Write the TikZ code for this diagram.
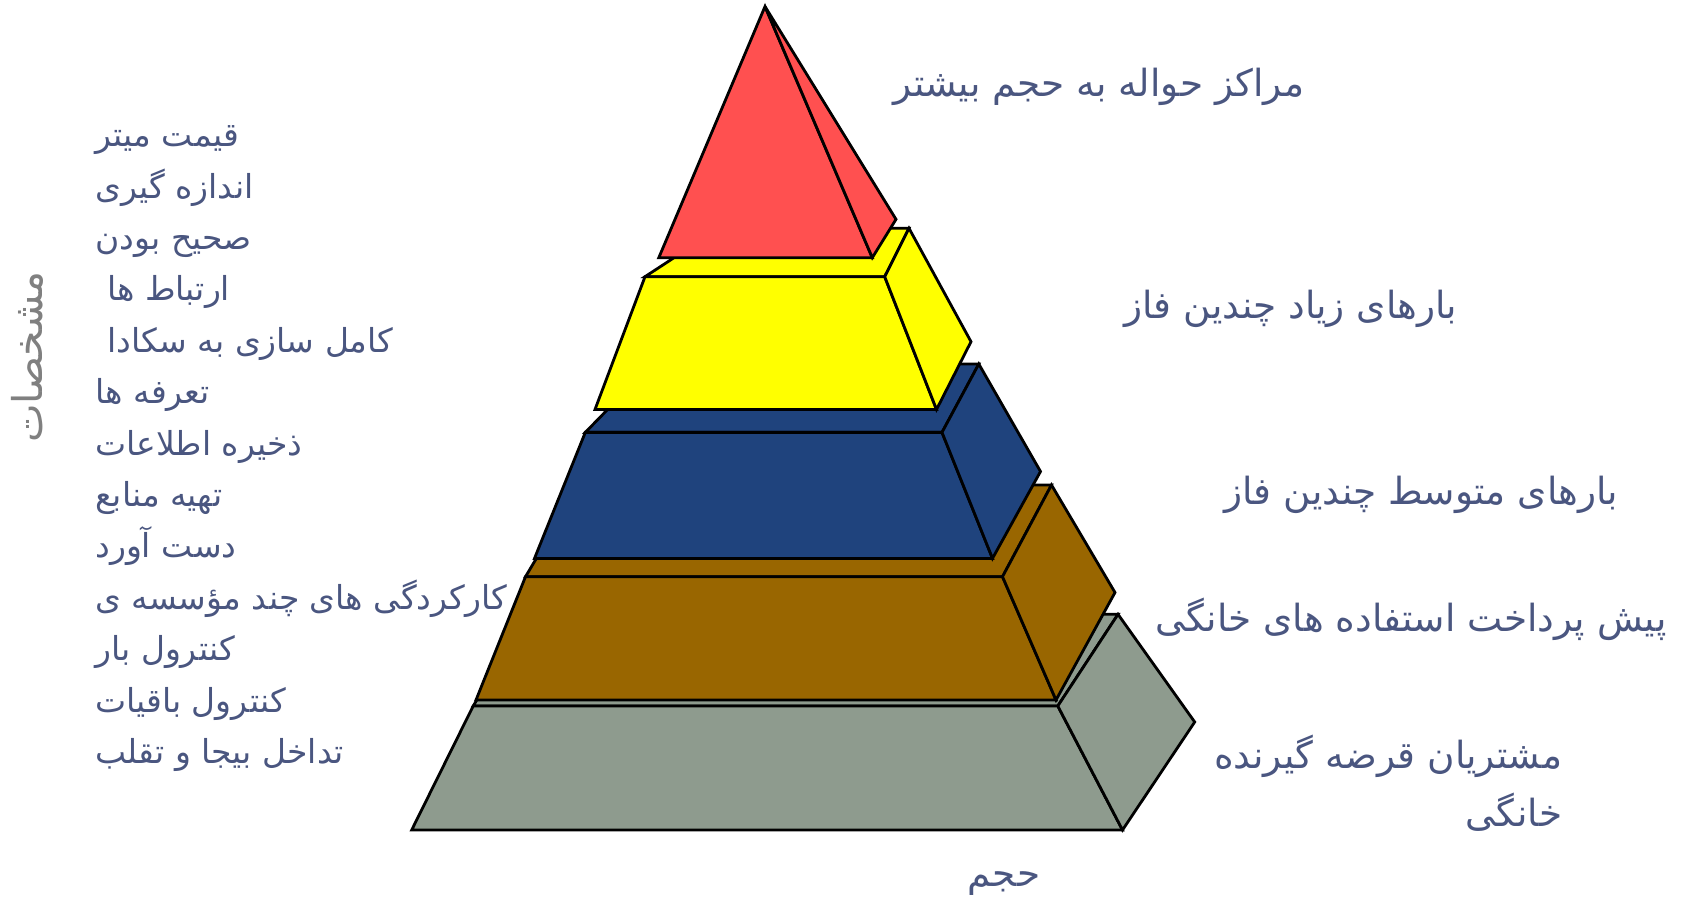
\documentclass[tikz,border=0pt]{standalone}
\usepackage{fontspec}
\newfontfamily\persianfont[Script=Arabic]{DejaVu Sans}
\TeXXeTstate=1
\newcommand\rtltext[1]{\beginR #1\endR}
\definecolor{txtblue}{RGB}{74,86,128}
\definecolor{labelgray}{RGB}{128,128,128}
\definecolor{pyred}{RGB}{255,80,80}
\definecolor{pyyellow}{RGB}{255,255,0}
\definecolor{pyblue}{RGB}{31,67,125}
\definecolor{pybrown}{RGB}{153,102,0}
\definecolor{pygray}{RGB}{142,155,142}
\tikzset{
  face/.style={draw=black, line width=1.4pt, line join=miter},
  lbl/.style={inner sep=0pt, text=txtblue, font=\persianfont\fontsize{16.5}{20}\selectfont},
  rlbl/.style={inner sep=0pt, text=txtblue, font=\persianfont\fontsize{18.7}{22}\selectfont},
}
\begin{document}
\begin{tikzpicture}[x=0.5pt,y=-0.5pt]
\useasboundingbox (0,0) rectangle (1687,903);
% gray layer
\path[face, fill=pygray] (473.2,706) -- (1057.8,706) -- (1118,614.3) -- (528,614.3) -- cycle;
\path[face, fill=pygray] (473.2,706) -- (1057.8,706) -- (1122.5,830) -- (411.7,830) -- cycle;
\path[face, fill=pygray] (1057.8,706) -- (1118,614.3) -- (1194.7,722) -- (1122.5,830) -- cycle;
% brown layer
\path[face, fill=pybrown] (525.5,576.7) -- (1002.5,576.7) -- (1051.5,485) -- (580,485) -- cycle;
\path[face, fill=pybrown] (525.5,576.7) -- (1002.5,576.7) -- (1056,700) -- (476,700) -- cycle;
\path[face, fill=pybrown] (1002.5,576.7) -- (1051.5,485) -- (1115,592.5) -- (1056,700) -- cycle;
% blue layer
\path[face, fill=pyblue] (585.3,432.4) -- (942,432.4) -- (978.8,364) -- (652,364) -- cycle;
\path[face, fill=pyblue] (585.3,432.4) -- (942,432.4) -- (992.5,558.4) -- (534.5,558.4) -- cycle;
\path[face, fill=pyblue] (942,432.4) -- (978.8,364) -- (1040.5,471.5) -- (992.5,558.4) -- cycle;
% yellow layer
\path[face, fill=pyyellow] (645,276.7) -- (884.7,276.7) -- (909,228.3) -- (719,228.3) -- cycle;
\path[face, fill=pyyellow] (645,276.7) -- (884.7,276.7) -- (936.5,409.5) -- (595,409.5) -- cycle;
\path[face, fill=pyyellow] (884.7,276.7) -- (909,228.3) -- (971,341.7) -- (936.5,409.5) -- cycle;
% red top
\path[face, fill=pyred] (765,6.5) -- (872.3,257.7) -- (658.8,257.7) -- cycle;
\path[face, fill=pyred] (765,6.5) -- (896,219.3) -- (872.3,257.7) -- cycle;

% left list
\node[lbl, anchor=base west] (l1) at (95,146.7) {\rtltext{قیمت میتر}};
\node[lbl, anchor=base west] (l2) at (95,198.1) {\rtltext{اندازه گیری}};
\node[lbl, anchor=base west] (l3) at (95,249.5) {\rtltext{صحیح بودن}};
\node[lbl, anchor=base west] (l4) at (107,300.9) {\rtltext{ارتباط ها}};
\node[lbl, anchor=base west] (l5) at (107,352.3) {\rtltext{کامل سازی به سکادا}};
\node[lbl, anchor=base west] (l6) at (95,403.7) {\rtltext{تعرفه ها}};
\node[lbl, anchor=base west] (l7) at (95,455.1) {\rtltext{ذخیره اطلاعات}};
\node[lbl, anchor=base west] (l8) at (95,506.5) {\rtltext{تهیه منابع}};
\node[lbl, anchor=base west] (l9) at (95,557.9) {\rtltext{دست آورد}};
\node[lbl, anchor=base west] (l10) at (95,609.3) {\rtltext{کارکردگی های چند مؤسسه ی}};
\node[lbl, anchor=base west] (l11) at (95,660.7) {\rtltext{کنترول بار}};
\node[lbl, anchor=base west] (l12) at (95,712.1) {\rtltext{کنترول باقیات}};
\node[lbl, anchor=base west] (l13) at (95,763.5) {\rtltext{تداخل بیجا و تقلب}};

\node[lbl, text=labelgray, font=\persianfont\fontsize{20.5}{24}\selectfont, rotate=90] (side) at (27,357) {\rtltext{مشخصات}};

% right labels
\node[rlbl, anchor=base east] (r1) at (1305,96.7) {\rtltext{مراکز حواله به حجم بیشتر}};
\node[rlbl, anchor=base east] (r2) at (1457.5,318.3) {\rtltext{بارهای زیاد چندین فاز}};
\node[rlbl, anchor=base east] (r3) at (1618.5,505) {\rtltext{بارهای متوسط چندین فاز}};
\node[rlbl, anchor=base east] (r4) at (1667,631.7) {\rtltext{پیش پرداخت استفاده های خانگی}};
\node[rlbl, anchor=base east] (r5) at (1562.7,768.3) {\rtltext{مشتریان قرضه گیرنده}};
\node[rlbl, anchor=base east] (r6) at (1562.7,826.7) {\rtltext{خانگی}};
\node[rlbl, anchor=base] (vol) at (1004,886.7) {\rtltext{حجم}};
\end{tikzpicture}
\end{document}
